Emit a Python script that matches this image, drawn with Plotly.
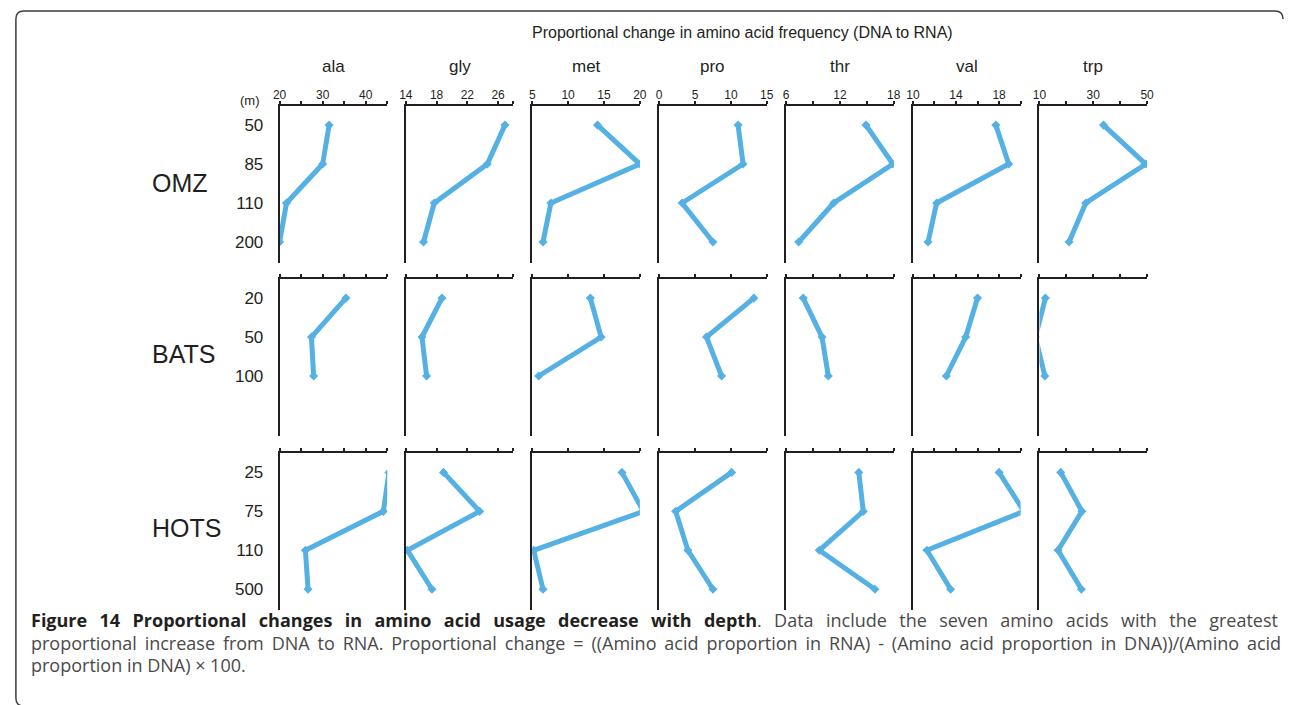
import plotly.graph_objects as go

# ---------------- data ----------------
acids = ["ala", "gly", "met", "pro", "thr", "val", "trp"]
sites = ["OMZ", "BATS", "HOTS"]

depth_omz = ["50", "85", "110", "200"]
depth_bats = ["20", "50", "100"]
depth_hots = ["25", "75", "110", "500"]

omz_vals = {
    "ala": [31.5, 30.0, 21.6, 20.0],
    "gly": [26.9, 24.6, 17.7, 16.3],
    "met": [14.1, 20.0, 7.6, 6.5],
    "pro": [11.0, 11.7, 3.2, 7.5],
    "thr": [14.9, 17.9, 11.3, 7.4],
    "val": [17.7, 18.9, 12.2, 11.4],
    "trp": [33.8, 49.5, 27.2, 21.0],
}
bats_vals = {
    "ala": [35.4, 27.4, 27.9],
    "gly": [18.7, 16.1, 16.7],
    "met": [13.1, 14.6, 5.9],
    "pro": [13.2, 6.6, 8.7],
    "thr": [7.9, 10.0, 10.7],
    "val": [16.0, 14.9, 13.1],
    "trp": [12.2, 8.5, 12.0],
}
hots_vals = {
    "ala": [45.4, 44.1, 26.0, 26.6],
    "gly": [18.9, 23.6, 14.2, 17.4],
    "met": [17.5, 20.5, 5.2, 6.5],
    "pro": [10.1, 2.3, 4.0, 7.5],
    "thr": [14.1, 14.6, 9.7, 15.9],
    "val": [18.0, 20.3, 11.3, 13.5],
    "trp": [17.9, 25.8, 16.9, 25.6],
}

x_ranges = {
    "ala": [20, 45], "gly": [14, 28], "met": [5, 20], "pro": [0, 15],
    "thr": [6, 18], "val": [10, 20], "trp": [10, 50],
}
x_tickvals = {
    "ala": [20, 25, 30, 35, 40, 45],
    "gly": [14, 18, 22, 26, 28],
    "met": [5, 10, 15, 20],
    "pro": [0, 5, 10, 15],
    "thr": [6, 9, 12, 15, 18],
    "val": [10, 12, 14, 16, 18, 20],
    "trp": [10, 20, 30, 40, 50],
}
x_ticktext = {
    "ala": ["20", "", "30", "", "40", ""],
    "gly": ["14", "18", "22", "26", ""],
    "met": ["5", "10", "15", "20"],
    "pro": ["0", "5", "10", "15"],
    "thr": ["6", "", "12", "", "18"],
    "val": ["10", "", "14", "", "18", ""],
    "trp": ["10", "", "30", "", "50"],
}

title_text = "Proportional change in amino acid frequency (DNA to RNA)"
caption_bold = "Figure 14 Proportional changes in amino acid usage decrease with depth"
caption_lines = [
    ". Data include the seven amino acids with the greatest",
    "proportional increase from DNA to RNA. Proportional change = ((Amino acid proportion in RNA)"
    " - (Amino acid proportion in DNA))/(Amino acid",
    "proportion in DNA) × 100.",
]

# ---------------- layout geometry (pixels) ----------------
W, H = 1290, 705
panel_left = [275.6, 403.2, 531.0, 659.3, 787.7, 915.9, 1043.8]
panel_w = 108.8
row_top = [106.0, 279.0, 453.3]
row_h = 157.0

INK = "#231f20"
GREY = "#4a4a4a"
BLUE = "#55b0e3"
FONT = "Liberation Sans, Arial, sans-serif"
CAP_FONT = "Open Sans, sans-serif"


def px(x):
    return x / W


def py(y):
    return 1 - y / H


site_data = [(depth_omz, omz_vals), (depth_bats, bats_vals), (depth_hots, hots_vals)]

fig = go.Figure()
layout = dict(
    autosize=True, height=H,
    margin=dict(l=0, r=0, t=0, b=0),
    paper_bgcolor="white", plot_bgcolor="white",
    showlegend=False,
    font=dict(family=FONT, color=INK),
)

n = 0
for r, (depths, vals) in enumerate(site_data):
    for c, acid in enumerate(acids):
        n += 1
        xa = "x" if n == 1 else f"x{n}"
        ya = "y" if n == 1 else f"y{n}"
        fig.add_trace(go.Scatter(
            x=vals[acid], y=depths, xaxis=xa, yaxis=ya,
            mode="lines+markers",
            line=dict(color=BLUE, width=5),
            marker=dict(color=BLUE, size=7, symbol="diamond"),
            hoverinfo="x+y",
        ))
        xd = [px(panel_left[c]), px(panel_left[c] + panel_w)]
        yd = [py(row_top[r] + row_h), py(row_top[r])]
        layout["xaxis" if n == 1 else f"xaxis{n}"] = dict(
            domain=xd, anchor=ya, side="top",
            range=x_ranges[acid], autorange=False,
            tickmode="array", tickvals=x_tickvals[acid], ticktext=x_ticktext[acid],
            showticklabels=(r == 0),
            ticks="outside", ticklen=3, tickwidth=1.5, tickcolor=INK,
            ticklabelstandoff=-3,
            showline=True, linecolor=INK, linewidth=1.8,
            showgrid=False, zeroline=False,
            tickfont=dict(size=12, color=INK, family=FONT),
            fixedrange=True,
        )
        layout["yaxis" if n == 1 else f"yaxis{n}"] = dict(
            domain=yd, anchor=xa,
            type="category", categoryorder="array", categoryarray=depths,
            range=[3.54, -0.49], autorange=False,
            showticklabels=(c == 0),
            ticks="", ticklabelstandoff=11,
            showline=True, linecolor=INK, linewidth=1.8,
            showgrid=False, zeroline=False,
            tickfont=dict(size=17, color=INK, family=FONT),
            fixedrange=True,
        )

annotations = []
annotations.append(dict(
    text=title_text, x=px(744), y=py(33), xref="paper", yref="paper",
    xanchor="center", yanchor="middle", showarrow=False,
    font=dict(size=16, color=INK, family=FONT),
))
for c, acid in enumerate(acids):
    annotations.append(dict(
        text=acid, x=px(panel_left[c] + panel_w / 2), y=py(66), xref="paper", yref="paper",
        xanchor="center", yanchor="middle", showarrow=False,
        font=dict(size=17, color=INK, family=FONT),
    ))
annotations.append(dict(
    text="(m)", x=px(258), y=py(101), xref="paper", yref="paper",
    xanchor="right", yanchor="middle", showarrow=False,
    font=dict(size=13, color=INK, family=FONT),
))
site_y = [183, 354, 528]
for r, s in enumerate(sites):
    annotations.append(dict(
        text=s, x=px(145), y=py(site_y[r]), xref="paper", yref="paper",
        xanchor="left", yanchor="middle", showarrow=False,
        font=dict(size=25, color=INK, family=FONT),
    ))

# caption (word spacing approximates the justified text of the reference)
cap_y = [620, 643, 665]
cap_spacing = ["7.7px", "3.2px", "0px"]
cap_text = [
    f"<span style='word-spacing:{cap_spacing[0]}'><b style='color:{INK}'>{caption_bold}</b>{caption_lines[0]}</span>",
    f"<span style='word-spacing:{cap_spacing[1]}'>{caption_lines[1]}</span>",
    caption_lines[2],
]
for i, line in enumerate(cap_text):
    annotations.append(dict(
        text=line, x=px(22), y=py(cap_y[i]), xref="paper", yref="paper",
        xanchor="left", yanchor="middle", showarrow=False, align="left",
        font=dict(size=18, color=GREY, family=CAP_FONT),
    ))
layout["annotations"] = annotations

path = (
    f"M {px(17)},{py(706)} Q {px(9)},{py(706)} {px(9)},{py(698)} "
    f"L {px(9)},{py(19)} Q {px(9)},{py(11)} {px(17)},{py(11)} "
    f"L {px(1282)},{py(11)} Q {px(1290)},{py(11)} {px(1290)},{py(19)}"
)
layout["shapes"] = [dict(
    type="path", path=path, xref="paper", yref="paper",
    line=dict(color="#3c3c3c", width=1.5),
)]

fig.update_layout(**layout)
fig.write_html(
    "out.html",
    config={"displayModeBar": False, "responsive": True},
    default_width="100%",
    default_height=f"{H}px",
    post_script=(
        "document.documentElement.style.margin='0';"
        "document.body.style.margin='0';"
        "document.documentElement.style.overflow='hidden';"
        "document.body.style.overflow='hidden';"
        "Plotly.Plots.resize(document.getElementById('{plot_id}'));"
    ),
)
